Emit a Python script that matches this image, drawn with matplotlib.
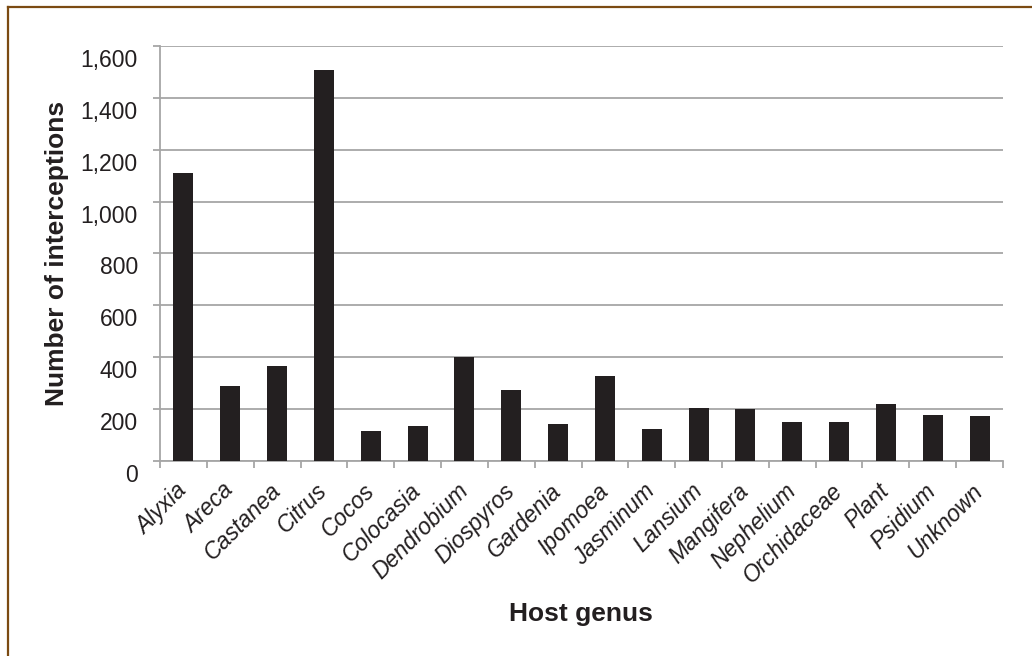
import matplotlib.pyplot as plt
from matplotlib.transforms import ScaledTranslation
from matplotlib.lines import Line2D

genus = ["Alyxia", "Areca", "Castanea", "Citrus", "Cocos", "Colocasia",
         "Dendrobium", "Diospyros", "Gardenia", "Ipomoea", "Jasminum",
         "Lansium", "Mangifera", "Nephelium", "Orchidaceae", "Plant",
         "Psidium", "Unknown"]
interceptions = [1110, 290, 368, 1507, 114, 136, 400, 273, 143, 326, 124,
                 206, 202, 151, 151, 218, 176, 173]
yticks = [0, 200, 400, 600, 800, 1000, 1200, 1400, 1600]

plt.rcParams["font.family"] = ["Liberation Sans", "DejaVu Sans"]
grey = "#a6a6a6"

fig = plt.figure(figsize=(10.32, 6.56), dpi=100)
ax = fig.add_axes([160/1032, 1-461/656, (1003-160)/1032, (461-46)/656])

x = list(range(len(genus)))
ax.bar(x, interceptions, width=0.43, color="#231f20", zorder=3)

ax.set_xlim(-0.5, len(genus)-0.5)
ax.set_ylim(0, 1600)
ax.set_yticks(yticks)
ax.set_yticklabels([f"{v:,}" for v in yticks], fontsize=16.5, color="#231f20")
ax.yaxis.grid(True, color=grey, linewidth=1.3, zorder=0)

# tick marks between categories, labels at centres
ax.set_xticks([i - 0.5 for i in range(len(genus)+1)])
ax.set_xticklabels([])
ax.set_xticks(x, minor=True)
ax.set_xticklabels(genus, minor=True, rotation=45, ha="right", va="center",
                   rotation_mode="anchor", fontsize=16.5, style="italic", color="#231f20")
ax.tick_params(axis="x", which="minor", length=0, pad=19)
ax.tick_params(axis="x", which="major", length=5, width=1.3, color=grey)
ax.tick_params(axis="y", length=5, width=1.3, color=grey, pad=11)

for lab in ax.get_yticklabels():
    lab.set_transform(lab.get_transform() + ScaledTranslation(0, -0.12, fig.dpi_scale_trans))

for s in ["top", "right"]:
    ax.spines[s].set_visible(False)
for s in ["left", "bottom"]:
    ax.spines[s].set_color(grey)
    ax.spines[s].set_linewidth(1.3)

fig.text(57/1032, 1-253/656, "Number of interceptions", rotation=90, fontsize=19,
         fontweight="bold", ha="center", va="center", color="#231f20")
fig.text(581/1032, 1-614/656, "Host genus", fontsize=19, fontweight="bold",
         ha="center", va="center", color="#231f20")

# brown frame on top and left
fig.add_artist(Line2D([7.5/1032, 7.5/1032], [0, 1-6.5/656], color="#7b4a12", linewidth=1.6))
fig.add_artist(Line2D([7.5/1032, 1], [1-6.5/656, 1-6.5/656], color="#7b4a12", linewidth=1.6))

fig.savefig("out.png", dpi=100)
